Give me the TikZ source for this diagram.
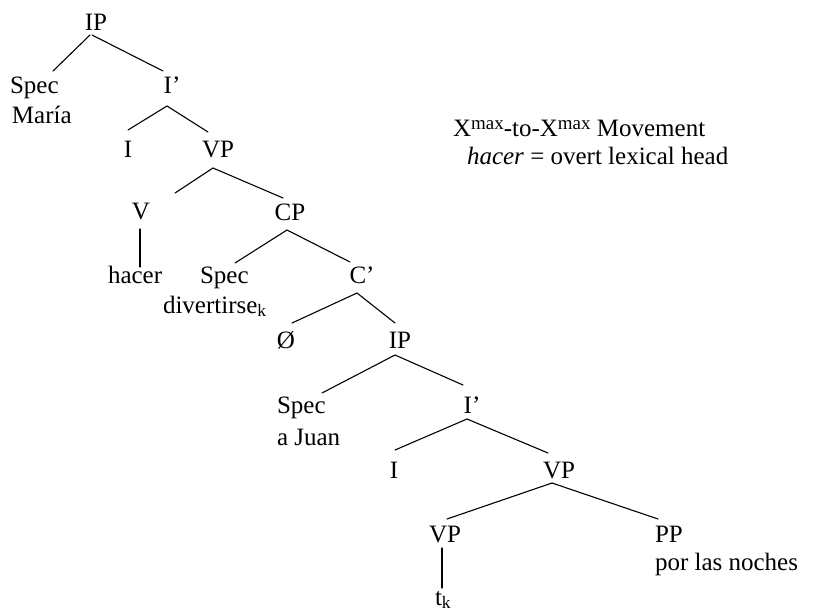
\documentclass[tikz,border=0pt]{standalone}
\usepackage{fontspec}
\setmainfont{Liberation Serif}
% raised "max" label, set larger than the default superscript
\newcommand{\xmaxsup}{\raisebox{7pt}{\fontsize{19}{19}\selectfont max}}
\begin{document}
\begin{tikzpicture}[
  x=1pt, y=-1pt,
  lbl/.style={inner sep=0pt, outer sep=0pt, font=\fontsize{25}{30}\selectfont},
  cat/.style={lbl, anchor=base},
  word/.style={lbl, anchor=base west},
  branch/.style={line width=1.1pt, line cap=round}
]
\useasboundingbox (0,0) rectangle (813,611);

% upper IP
\node[cat]  (ip1)   at (96,30)   {IP};
\node[word] (spec1) at (10,93)   {Spec};
\node[word] (maria) at (12,123)  {María};
\node[cat]  (ibar1) at (172,93)  {I’};
\node[cat]  (i1)    at (128,157) {I};
\node[cat]  (vp1)   at (218,157) {VP};
\node[cat]  (v1)    at (141,219) {V};
\node[cat]  (cp1)   at (290,220) {CP};
\node[word] (hacer) at (108,283) {hacer};
\node[word] (spec2) at (200,283) {Spec};
\node[word] (div)   at (163,313) {divertirse\textsubscript{k}};
\node[cat]  (cbar)  at (362,283) {C’};
\node[cat]  (null)  at (286,348) {Ø};

% embedded IP
\node[cat]  (ip2)   at (400,348) {IP};
\node[word] (spec3) at (277,413) {Spec};
\node[word] (ajuan) at (277,445) {a Juan};
\node[cat]  (ibar2) at (472,413) {I’};
\node[cat]  (i2)    at (394,478) {I};
\node[cat]  (vp2)   at (559,478) {VP};
\node[cat]  (vp3)   at (445,542) {VP};
\node[word] (pp)    at (655,542) {PP};
\node[word] (noches) at (655,570) {por las noches};
\node[word] (tk)    at (435,605) {t\textsubscript{k}};

% legend
\node[word] (leg1) at (453,136) {X\xmaxsup-to-X\xmaxsup{} Movement};
\node[word] (leg2) at (467,164) {\textit{hacer} = overt lexical head};

% branches
\draw[branch] ([shift={(-6,5)}]ip1.base)    -- ([shift={(43,-22)}]spec1.base west);
\draw[branch] ([shift={(-4,5)}]ip1.base)    -- ([shift={(-9,-22)}]ibar1.base);
\draw[branch] ([shift={(-5,13)}]ibar1.base) -- ([shift={(0,-27)}]i1.base);
\draw[branch] ([shift={(-5,13)}]ibar1.base) -- ([shift={(-10,-25)}]vp1.base);
\draw[branch] ([shift={(-5,11)}]vp1.base)   -- ([shift={(34,-26)}]v1.base);
\draw[branch] ([shift={(-5,11)}]vp1.base)   -- ([shift={(-7,-22)}]cp1.base);
\draw[branch] ([shift={(-1,10)}]v1.base)    -- ([shift={(32,-16)}]hacer.base west);
\draw[branch] ([shift={(-3,10)}]cp1.base)   -- ([shift={(35,-20)}]spec2.base west);
\draw[branch] ([shift={(-3,10)}]cp1.base)   -- ([shift={(-12,-21)}]cbar.base);
\draw[branch] ([shift={(-5,10)}]cbar.base)  -- ([shift={(6,-25)}]null.base);
\draw[branch] ([shift={(-5,10)}]cbar.base)  -- ([shift={(-5,-25)}]ip2.base);
\draw[branch] ([shift={(-5,7)}]ip2.base)    -- ([shift={(45,-20)}]spec3.base west);
\draw[branch] ([shift={(-5,7)}]ip2.base)    -- ([shift={(-9,-28)}]ibar2.base);
\draw[branch] ([shift={(-5,6)}]ibar2.base)  -- ([shift={(1,-28)}]i2.base);
\draw[branch] ([shift={(-5,6)}]ibar2.base)  -- ([shift={(-11,-25)}]vp2.base);
\draw[branch] ([shift={(-7,5)}]vp2.base)    -- ([shift={(2,-23)}]vp3.base);
\draw[branch] ([shift={(-7,5)}]vp2.base)    -- ([shift={(3,-23)}]pp.base west);
\draw[branch] ([shift={(-3,6)}]vp3.base)    -- ([shift={(7,-17)}]tk.base west);
\end{tikzpicture}
\end{document}
